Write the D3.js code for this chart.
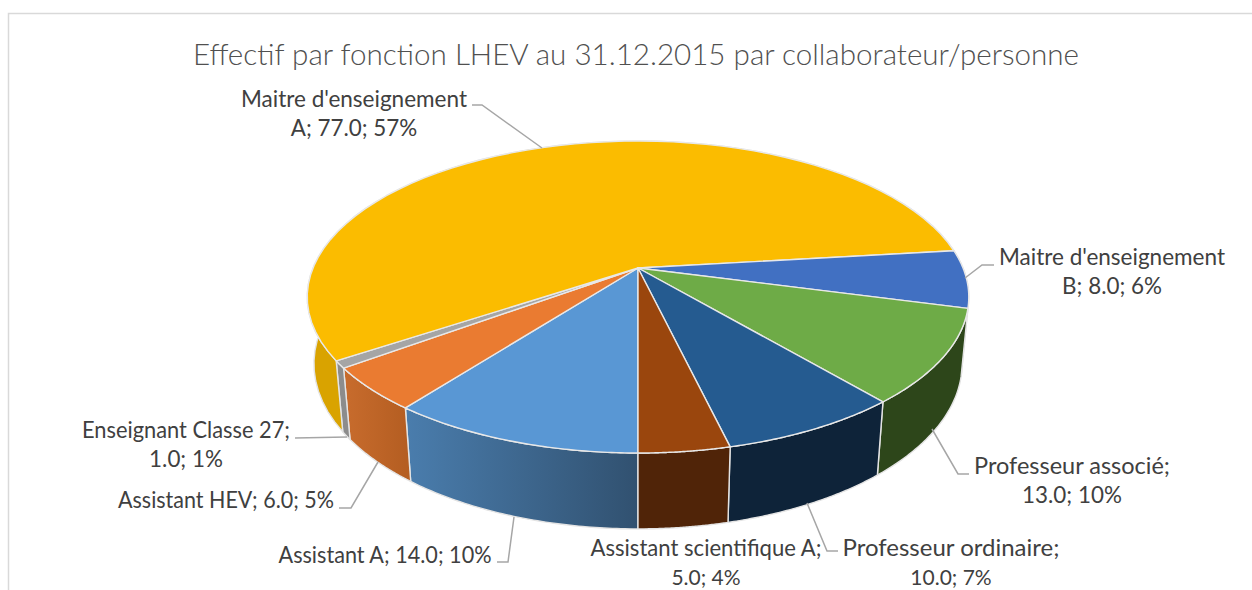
<!DOCTYPE html>
<html>
<head>
<meta charset="utf-8">
<script src="https://cdn.jsdelivr.net/npm/d3@7/dist/d3.min.js"></script>
<style>
  html, body { margin: 0; padding: 0; background: #fff; overflow: hidden; }
  text { font-family: Lato, "Open Sans", sans-serif; }
</style>
</head>
<body>
<div id="chart"></div>
<script>
// Data, in the order of the workbook (first slice starts at 180 degrees)
var categories = ["Assistant A", "Assistant HEV", "Enseignant Classe 27", "Maitre d'enseignement A",
  "Maitre d'enseignement B", "Professeur associé", "Professeur ordinaire", "Assistant scientifique A"];
var values = [14, 6, 1, 77, 8, 13, 10, 5];
var percents = [10, 5, 1, 57, 6, 10, 7, 4];
var chartTitle = "Effectif par fonction LHEV au 31.12.2015 par collaborateur/personne";

// Colours
var topColors = ["#5997d4", "#ea7b31", "#a5a5a5", "#fbbc00", "#4170c2", "#6eab47", "#255b90", "#9a460d"];
var wallLeft = ["#4a7dad", "#c86c2d", "#8c8c8c", "#d9a300", "#2f4f8a", "#2d461a", "#0e2339", "#502408"];
var wallRight = ["#315170", "#b55e22", "#8c8c8c", "#d9a300", "#2f4f8a", "#2d461a", "#0e2339", "#502408"];

// Label placement, one entry per slice: text lines and the leader line
var labelLines = [
  ["Assistant A; 14.0; 10%"],
  ["Assistant HEV; 6.0; 5%"],
  ["Enseignant Classe 27;", "1.0; 1%"],
  ["Maitre d'enseignement", "A; 77.0; 57%"],
  ["Maitre d'enseignement", "B; 8.0; 6%"],
  ["Professeur associé;", "13.0; 10%"],
  ["Professeur ordinaire;", "10.0; 7%"],
  ["Assistant scientifique A;", "5.0; 4%"]
];
var labelX = [385, 226, 186, 354, 1112, 1072, 951, 706];
var labelY = [563, 508, 438, 107, 265, 474, 556, 556];
var labelWidths = [213, 216, 208, 226, 226, 196, 217, 231]; // first line, Calibri in the original
var lineHeight = 29;
var leaders = [
  [[497, 562], [508, 562], [514, 517]],
  [[339, 508], [351, 508], [378, 462]],
  [[295, 438], [347, 437]],
  [[472, 105], [482, 105], [542, 148]],
  [[994, 265], [982, 265], [965, 278]],
  [[969, 474], [958, 474], [932, 429]],
  [[838, 551], [827, 551], [807, 503]],
  []
];

var width = 1252, height = 590;

// Perspective of the disc: apex at (cx, cy)
var cx = 638, cy = 268, radiusX = 325, radiusY = 150.6, tilt = 0.186, shrink = 0.02, depth = 67;

function project(a, r, z) {
  var u = Math.sin(a) * r, v = -Math.cos(a) * r;
  var s = 1 / (1 - tilt * v + shrink * z);
  return [cx + radiusX * u * s, cy + radiusY * v * s + depth * z * s];
}

function arcPoints(a0, a1, z) {
  return d3.range(0, 61).map(function(i) {
    return project(a0 + (a1 - a0) * i / 60, 1, z);
  });
}

var svg = d3.select("#chart").append("svg")
  .attr("width", width)
  .attr("height", height)
  .style("display", "block");

var defs = svg.append("defs");
var line = d3.line();

var pie = d3.pie().sort(null).startAngle(Math.PI).endAngle(3 * Math.PI);
var slices = pie(values);

// chart frame, cut by the bottom and right of the picture
svg.append("path")
  .attr("d", line([[8.5, 590], [8.5, 13.5], [1252, 13.5]]))
  .attr("fill", "none")
  .attr("stroke", "#d9d9d9")
  .attr("stroke-width", 1.5);

// walls first, the top disc hides the back of them
slices.forEach(function(d, i) {
  var top = arcPoints(d.startAngle, d.endAngle, 0);
  var bottom = arcPoints(d.startAngle, d.endAngle, 1).reverse();
  var grad = defs.append("linearGradient")
    .attr("id", "wall" + i)
    .attr("gradientUnits", "userSpaceOnUse")
    .attr("x1", d3.min(top, function(p) { return p[0]; }))
    .attr("x2", d3.max(top, function(p) { return p[0]; }))
    .attr("y1", 0).attr("y2", 0);
  grad.append("stop").attr("offset", 0).attr("stop-color", wallLeft[i]);
  grad.append("stop").attr("offset", 1).attr("stop-color", wallRight[i]);

  svg.append("path")
    .attr("d", line(top.concat(bottom)) + "Z")
    .attr("fill", "url(#wall" + i + ")")
    .attr("stroke", "#e4e4e4")
    .attr("stroke-width", 1.4)
    .attr("stroke-linejoin", "round");
});

// top of the pie
slices.forEach(function(d, i) {
  var pts = [project(0, 0, 0)].concat(arcPoints(d.startAngle, d.endAngle, 0));
  svg.append("path")
    .attr("d", line(pts) + "Z")
    .attr("fill", topColors[i])
    .attr("stroke", "#e8e8e8")
    .attr("stroke-width", 1.4)
    .attr("stroke-linejoin", "round");
});

// leader lines
leaders.forEach(function(pts) {
  if (pts.length === 0) { return; }
  svg.append("path")
    .attr("d", line(pts))
    .attr("fill", "none")
    .attr("stroke", "#a6a6a6")
    .attr("stroke-width", 1.5);
});

// data labels
labelLines.forEach(function(lines, i) {
  lines.forEach(function(txt, j) {
    var t = svg.append("text")
      .attr("x", labelX[i])
      .attr("y", labelY[i] + j * lineHeight)
      .attr("text-anchor", "middle")
      .attr("font-size", j === 1 && labelY[i] > 550 ? 21 : 22.4)
      .attr("fill", "#404040")
      .text(txt);
    if (j === 0) {
      t.attr("textLength", labelWidths[i]).attr("lengthAdjust", "spacingAndGlyphs");
    }
  });
});

svg.append("text")
  .attr("x", 636)
  .attr("y", 65)
  .attr("text-anchor", "middle")
  .attr("font-size", 29.6)
  .attr("font-weight", 300)
  .attr("fill", "#505050")
  .text(chartTitle);
</script>
</body>
</html>
